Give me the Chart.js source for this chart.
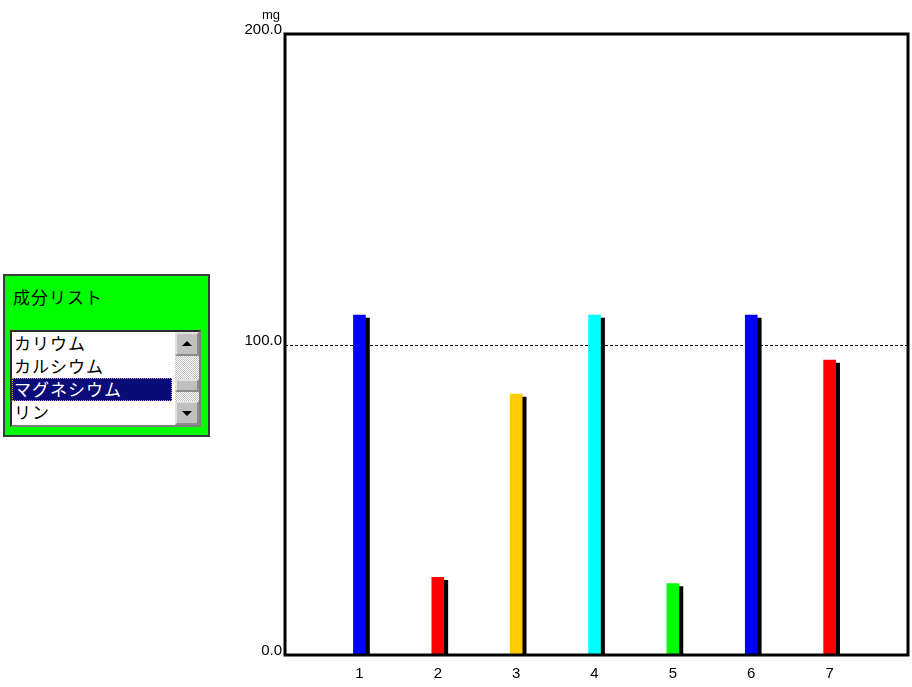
<!DOCTYPE html>
<html lang="ja">
<head>
    <meta charset="UTF-8">
    <title>成分リスト</title>
    <script src="https://cdn.jsdelivr.net/npm/chart.js"></script>
    <style>
        body {
            margin: 0;
            padding: 0;
            width: 912px;
            height: 687px;
            overflow: hidden;
            background-color: #ffffff;
            position: relative;
        }
        .chart-container {
            position: absolute;
            left: 230px;
            top: 0;
            width: 682px;
            height: 687px;
        }
        #panel {
            position: absolute;
            left: 3px;
            top: 274px;
            width: 203px;
            height: 159px;
            background-color: #00ff00;
            border: 2px solid #3a3a3a;
            font-family: "Noto Sans CJK JP", sans-serif;
        }
        #panel .title {
            position: absolute;
            left: 8px;
            top: 11px;
            font-size: 17px;
            line-height: 20px;
            letter-spacing: 1px;
            color: #000000;
        }
        #list {
            position: absolute;
            left: 5px;
            top: 54px;
            width: 187px;
            height: 93px;
            background-color: #ffffff;
            border: 2px inset #808080;
            overflow: hidden;
        }
        #list .item {
            position: relative;
            width: 160px;
            height: 23px;
            line-height: 22px;
            padding-left: 2px;
            font-size: 17px;
            letter-spacing: 1px;
            color: #000000;
            box-sizing: border-box;
        }
        #list .item.sel {
            background-color: #0a0a78;
            color: #ffffff;
            outline: 1px dotted #c8b400;
            outline-offset: -1px;
        }
        #scroll {
            position: absolute;
            right: 0;
            top: 0;
            width: 24px;
            height: 93px;
            background-color: #e4e4e4;
            background-image: repeating-conic-gradient(#c0c0c0 0 25%, #ffffff 0 50%);
            background-size: 2px 2px;
        }
        #scroll .btn, #scroll .thumb {
            position: absolute;
            left: 0;
            width: 20px;
            background-color: #c0c0c0;
            border: 2px outset #e0e0e0;
        }
        #scroll .up { top: 0; height: 20px; }
        #scroll .down { bottom: 0; height: 20px; }
        #scroll .thumb { top: 47px; height: 9px; }
        .tri {
            position: absolute;
            left: 5px;
            width: 0;
            height: 0;
            border-left: 5px solid transparent;
            border-right: 5px solid transparent;
        }
        .up .tri { top: 7px; border-bottom: 5px solid #000000; }
        .down .tri { top: 8px; border-top: 5px solid #000000; }
    </style>
</head>
<body>
    <div id="panel">
        <div class="title">成分リスト</div>
        <div id="list">
            <div class="item">カリウム</div>
            <div class="item">カルシウム</div>
            <div class="item sel">マグネシウム</div>
            <div class="item">リン</div>
            <div id="scroll">
                <div class="btn up"><div class="tri"></div></div>
                <div class="thumb"></div>
                <div class="btn down"><div class="tri"></div></div>
            </div>
        </div>
    </div>

    <div class="chart-container">
        <canvas id="barChart"></canvas>
    </div>

    <script>
        // chart data
        const categories = [1, 2, 3, 4, 5, 6, 7];
        const values = [109.5, 25, 84, 109.5, 23, 109.5, 95];
        const barColors = ['#0000ff', '#ff0000', '#ffcc00', '#00ffff', '#00ff00', '#0000ff', '#ff0000'];
        const yTicks = [0, 100, 200];
        const refLines = [100];
        const unitLabel = 'mg';

        // dashed reference line, frame, unit text
        const framePlugin = {
            id: 'frame',
            beforeDatasetsDraw(chart) {
                const ctx = chart.ctx;
                const area = chart.chartArea;
                const y = chart.scales.y;
                ctx.save();
                ctx.strokeStyle = '#000000';
                ctx.lineWidth = 1;
                ctx.setLineDash([3, 2]);
                refLines.forEach(v => {
                    const py = Math.round(y.getPixelForValue(v)) + 0.5;
                    ctx.beginPath();
                    ctx.moveTo(area.left, py);
                    ctx.lineTo(area.right, py);
                    ctx.stroke();
                });
                ctx.restore();
                // bar shadow
                ctx.save();
                ctx.shadowColor = '#000000';
                ctx.shadowOffsetX = 4;
                ctx.shadowOffsetY = 3;
                ctx.shadowBlur = 0;
            },
            afterDatasetsDraw(chart) {
                chart.ctx.restore();
            },
            afterDraw(chart) {
                const ctx = chart.ctx;
                const area = chart.chartArea;
                ctx.save();
                ctx.strokeStyle = '#000000';
                ctx.lineWidth = 3;
                ctx.strokeRect(area.left, area.top, area.right - area.left, area.bottom - area.top);
                ctx.fillStyle = '#000000';
                ctx.font = '13px "Liberation Sans", Arial, sans-serif';
                ctx.textAlign = 'right';
                ctx.fillText(unitLabel, area.left - 5, area.top - 15);
                ctx.restore();
            }
        };

        const ctx = document.getElementById('barChart').getContext('2d');

        const barChart = new Chart(ctx, {
            type: 'bar',
            data: {
                datasets: [{
                    data: categories.map((c, i) => ({ x: c, y: values[i] })),
                    backgroundColor: barColors,
                    borderWidth: 0,
                    barThickness: 12
                }]
            },
            options: {
                responsive: true,
                maintainAspectRatio: false,
                animation: false,
                layout: {
                    padding: { top: 34, right: 4, bottom: 0, left: 0 }
                },
                plugins: {
                    legend: { display: false },
                    tooltip: { enabled: false }
                },
                scales: {
                    x: {
                        type: 'linear',
                        min: 0.05,
                        max: 8,
                        offset: false,
                        grid: { display: false, drawTicks: false },
                        border: { display: false },
                        afterBuildTicks: scale => {
                            scale.ticks = categories.map(c => ({ value: c }));
                        },
                        afterFit: scale => { scale.height = 32; },
                        ticks: {
                            padding: 10,
                            color: '#000000',
                            font: { family: '"Liberation Sans", Arial, sans-serif', size: 15 },
                            callback: v => String(v)
                        }
                    },
                    y: {
                        min: 0,
                        max: 200,
                        grid: { display: false, drawTicks: false },
                        border: { display: false },
                        afterBuildTicks: scale => {
                            scale.ticks = yTicks.map(v => ({ value: v }));
                        },
                        afterFit: scale => { scale.width = 55; },
                        ticks: {
                            padding: 3,
                            labelOffset: -4,
                            color: '#000000',
                            font: { family: '"Liberation Sans", Arial, sans-serif', size: 15 },
                            callback: v => v.toFixed(1)
                        }
                    }
                }
            },
            plugins: [framePlugin]
        });
    </script>
</body>
</html>
